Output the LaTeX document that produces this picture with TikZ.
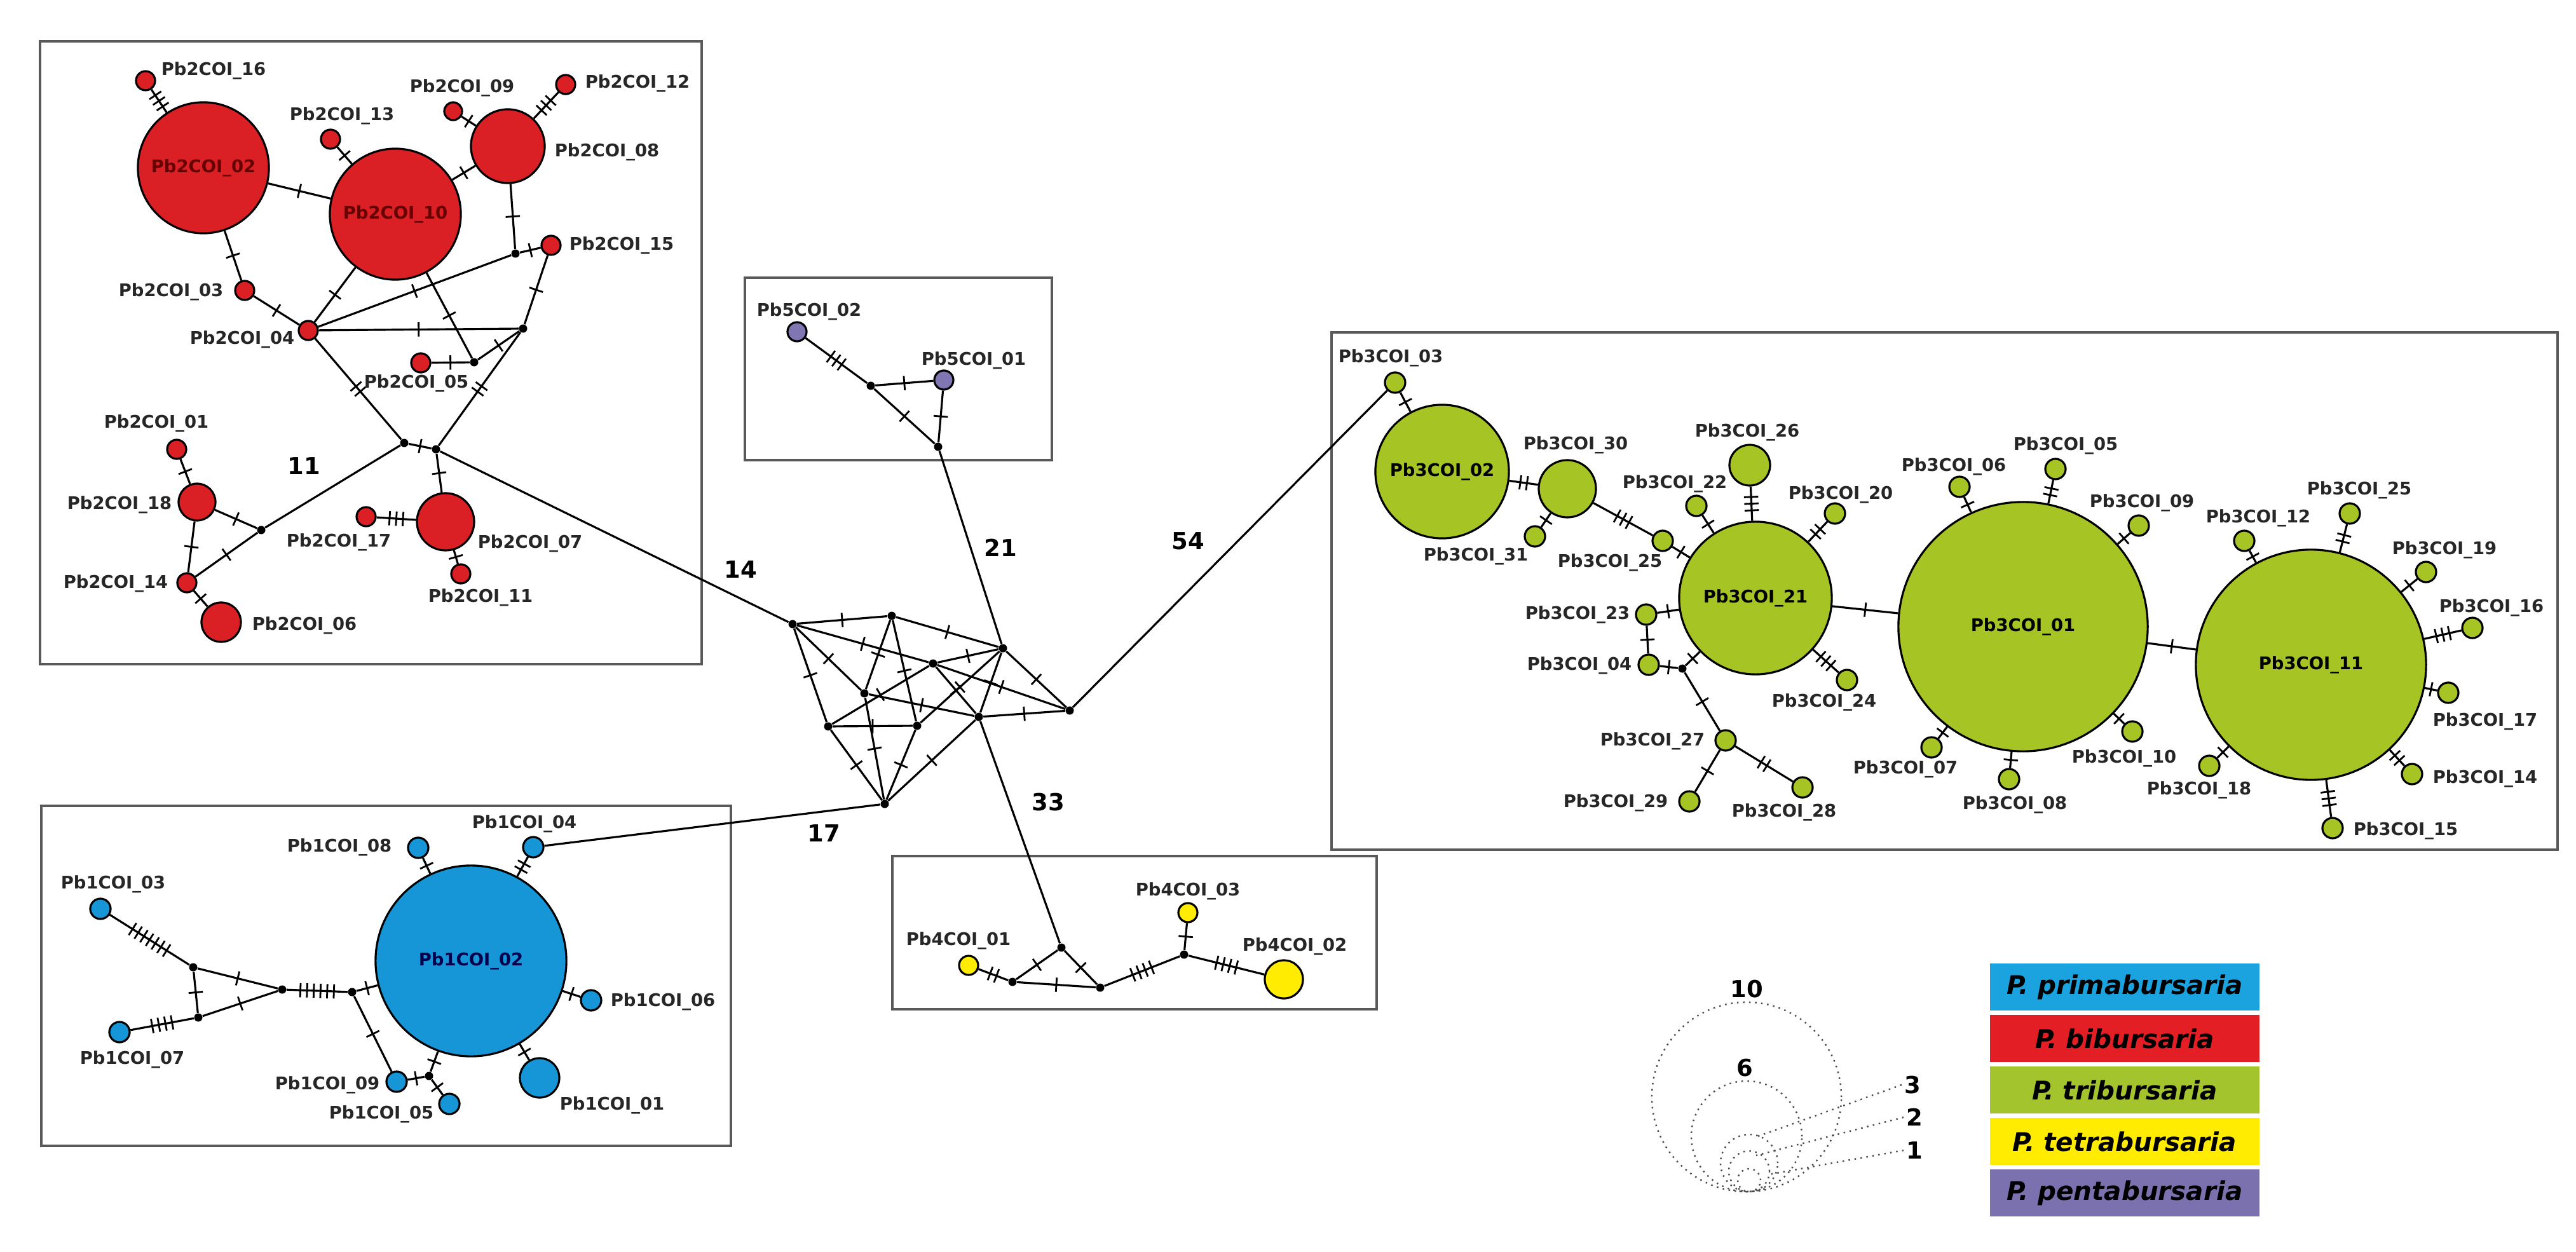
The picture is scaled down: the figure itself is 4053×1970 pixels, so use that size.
\documentclass[tikz,border=0pt]{standalone}
\usepackage{fontspec}
\setmainfont{DejaVu Sans}
\usetikzlibrary{decorations.markings}
\definecolor{hred}{RGB}{218,32,36}
\definecolor{hblue}{RGB}{22,150,214}
\definecolor{hgreen}{RGB}{166,196,36}
\definecolor{hyel}{RGB}{255,236,0}
\definecolor{hpur}{RGB}{128,118,178}
\definecolor{lblue}{RGB}{27,163,224}
\definecolor{lred}{RGB}{227,30,36}
\definecolor{lgreen}{RGB}{163,196,45}
\definecolor{lyel}{RGB}{255,236,0}
\definecolor{lpur}{RGB}{123,113,175}
\tikzset{
  hap/.style={circle,draw=black,line width=0.9pt,inner sep=0pt,minimum size={#1*0.02cm}},
  dot/.style={circle,fill=black,inner sep=0pt,minimum size=0.13cm},
  e/.style={line width=0.9pt},
  tk/.style={postaction={decorate,decoration={markings,mark=at position 0.5 with {\foreach \k in {1,...,#1}{\draw[line width=0.8pt] ({(\k-(#1+1)/2)*3pt},-3.2pt)--++(0,6.4pt);}}}}},
  lab/.style={font=\bfseries\fontsize{7.8}{9}\selectfont,text=black!85,inner sep=1pt},
  inl/.style={font=\bfseries\fontsize{7.8}{9}\selectfont},
  num/.style={font=\bfseries\fontsize{10.5}{12}\selectfont,inner sep=1pt},
  box/.style={draw=black!65,line width=1pt},
  leg/.style={minimum width=4.23cm,minimum height=0.73cm,inner sep=0pt,font=\bfseries\itshape\fontsize{11.5}{13}\selectfont},
  sz/.style={dotted,line width=0.7pt,black!70}
}
\begin{document}
\begin{tikzpicture}[x=0.01cm,y=-0.01cm]
\useasboundingbox (0,0) rectangle (4053,1970);
% boxes
\draw[box] (63,65) rectangle (1104,1045);
\draw[box] (1172,437) rectangle (1655,724);
\draw[box] (2095,523) rectangle (4024,1337);
\draw[box] (65,1268) rectangle (1150,1803);
\draw[box] (1404,1347) rectangle (2166,1588);

% ---------- Pb2 (red)
\node[hap=15,fill=hred] (b16) at (229,127) {};
\node[hap=103,fill=hred,inl,text=red!40!black] (b02) at (320,264) {Pb2COI\_02};
\node[hap=15,fill=hred] (b13) at (520,219) {};
\node[hap=103,fill=hred,inl,text=red!40!black] (b10) at (622,337) {Pb2COI\_10};
\node[hap=14,fill=hred] (b09) at (713,175) {};
\node[hap=15,fill=hred] (b12) at (890,133) {};
\node[hap=58,fill=hred] (b08) at (799,230) {};
\node[hap=15,fill=hred] (b15) at (867,386) {};
\node[dot] (v1) at (811,399) {};
\node[hap=15,fill=hred] (b03) at (385,457) {};
\node[hap=15,fill=hred] (b04) at (485,520) {};
\node[dot] (v2) at (823,517) {};
\node[hap=15,fill=hred] (b05) at (662,571) {};
\node[dot] (v3) at (746,570) {};
\node[dot] (v4) at (636,697) {};
\node[dot] (v5) at (686,707) {};
\node[hap=15,fill=hred] (b01) at (278,707) {};
\node[hap=29,fill=hred] (b18) at (310,790) {};
\node[dot] (v6) at (411,834) {};
\node[hap=15,fill=hred] (b14) at (294,917) {};
\node[hap=31,fill=hred] (b06) at (348,979) {};
\node[hap=15,fill=hred] (b17) at (576,813) {};
\node[hap=45,fill=hred] (b07) at (701,821) {};
\node[hap=15,fill=hred] (b11) at (725,903) {};
\draw[e,tk=3] (b16)--(b02);
\draw[e,tk=1] (b02)--(b10);
\draw[e,tk=1] (b13)--(b10);
\draw[e,tk=1] (b10)--(b08);
\draw[e,tk=1] (b09)--(b08);
\draw[e,tk=3] (b12)--(b08);
\draw[e,tk=1] (b08)--(v1);
\draw[e,tk=1] (v1)--(b15);
\draw[e,tk=1] (b02)--(b03);
\draw[e,tk=1] (b03)--(b04);
\draw[e,tk=1] (b10)--(b04);
\draw[e,tk=1] (b04)--(v1);
\draw[e,tk=1] (b04)--(v2);
\draw[e,tk=1] (b10)--(v3);
\draw[e,tk=1] (b05)--(v3);
\draw[e,tk=1] (v3)--(v2);
\draw[e,tk=1] (v2)--(b15);
\draw[e,tk=2] (b04)--(v4);
\draw[e,tk=2] (v2)--(v5);
\draw[e,tk=1] (v4)--(v5);
\draw[e,tk=1] (v5)--(b07);
\draw[e,tk=3] (b17)--(b07);
\draw[e,tk=1] (b07)--(b11);
\draw[e] (v4)--(v6);
\draw[e,tk=1] (v6)--(b18);
\draw[e,tk=1] (v6)--(b14);
\draw[e,tk=1] (b18)--(b14);
\draw[e,tk=1] (b01)--(b18);
\draw[e,tk=1] (b14)--(b06);
\node[lab] (lb16) at (336,111) {Pb2COI\_16};
\node[lab] (lb13) at (538,182) {Pb2COI\_13};
\node[lab] (lb09) at (727,138) {Pb2COI\_09};
\node[lab] (lb12) at (1003,131) {Pb2COI\_12};
\node[lab] (lb08) at (955,239) {Pb2COI\_08};
\node[lab] (lb15) at (978,386) {Pb2COI\_15};
\node[lab] (lb03) at (269,459) {Pb2COI\_03};
\node[lab] (lb04) at (381,534) {Pb2COI\_04};
\node[lab] (lb05) at (655,603) {Pb2COI\_05};
\node[lab] (lb01) at (246,666) {Pb2COI\_01};
\node[lab] (lb18) at (188,794) {Pb2COI\_18};
\node[lab] (lb17) at (533,853) {Pb2COI\_17};
\node[lab] (lb07) at (834,855) {Pb2COI\_07};
\node[lab] (lb11) at (756,940) {Pb2COI\_11};
\node[lab] (lb14) at (182,918) {Pb2COI\_14};
\node[lab] (lb06) at (479,984) {Pb2COI\_06};
\node[num] (n11) at (478,733) {11};

% ---------- Pb5 (purple)
\node[hap=15,fill=hpur] (u02) at (1254,522) {};
\node[dot] (w1) at (1370,607) {};
\node[hap=15,fill=hpur] (u01) at (1485,598) {};
\node[dot] (w2) at (1476,703) {};
\draw[e,tk=3] (u02)--(w1);
\draw[e,tk=1] (w1)--(u01);
\draw[e,tk=1] (w1)--(w2);
\draw[e,tk=1] (u01)--(w2);
\node[lab] (lu02) at (1273,490) {Pb5COI\_02};
\node[lab] (lu01) at (1532,567) {Pb5COI\_01};

% ---------- central network
\node[dot] (c1) at (1247,982) {};
\node[dot] (c2) at (1403,969) {};
\node[dot] (c3) at (1578,1020) {};
\node[dot] (c4) at (1468,1044) {};
\node[dot] (c5) at (1360,1091) {};
\node[dot] (c6) at (1683,1118) {};
\node[dot] (c7) at (1303,1143) {};
\node[dot] (c8) at (1443,1142) {};
\node[dot] (c9) at (1540,1128) {};
\node[dot] (c10) at (1392,1265) {};
\foreach \a/\b in {c1/c2,c2/c3,c1/c4,c4/c6,c1/c5,c1/c7,c2/c5,c5/c10,c2/c8,c4/c3,c7/c4,c4/c9,c5/c9,c7/c8,c8/c3,c9/c3,c3/c6,c9/c6,c7/c10,c8/c10,c9/c10}
  \draw[e,tk=1] (\a)--(\b);

% ---------- Pb4 (yellow)
\node[hap=15,fill=hyel] (y01) at (1524,1519) {};
\node[dot] (x2) at (1593,1545) {};
\node[dot] (x1) at (1670,1491) {};
\node[dot] (x3) at (1731,1554) {};
\node[dot] (x4) at (1863,1502) {};
\node[hap=15,fill=hyel] (y03) at (1869,1436) {};
\node[hap=30,fill=hyel] (y02) at (2020,1541) {};
\draw[e,tk=2] (y01)--(x2);
\draw[e,tk=1] (x2)--(x1);
\draw[e,tk=1] (x1)--(x3);
\draw[e,tk=1] (x2)--(x3);
\draw[e,tk=4] (x3)--(x4);
\draw[e,tk=1] (x4)--(y03);
\draw[e,tk=4] (x4)--(y02);
\node[lab] (ly01) at (1508,1480) {Pb4COI\_01};
\node[lab] (ly03) at (1869,1402) {Pb4COI\_03};
\node[lab] (ly02) at (2037,1489) {Pb4COI\_02};

% ---------- Pb3 (green)
\node[hap=16,fill=hgreen] (g03) at (2195,602) {};
\node[hap=105,fill=hgreen,inl] (g02) at (2269,742) {Pb3COI\_02};
\node[hap=45,fill=hgreen] (g30) at (2466,769) {};
\node[hap=16,fill=hgreen] (g31) at (2415,844) {};
\node[hap=16,fill=hgreen] (g25a) at (2616,851) {};
\node[hap=32,fill=hgreen] (g26) at (2753,732) {};
\node[hap=16,fill=hgreen] (g22) at (2669,796) {};
\node[hap=16,fill=hgreen] (g20) at (2887,808) {};
\node[hap=120,fill=hgreen,inl] (g21) at (2762,941) {Pb3COI\_21};
\node[hap=16,fill=hgreen] (g23) at (2590,967) {};
\node[hap=16,fill=hgreen] (g04) at (2594,1046) {};
\node[dot] (yy) at (2647,1052) {};
\node[hap=16,fill=hgreen] (g24) at (2906,1070) {};
\node[hap=16,fill=hgreen] (g27) at (2715,1165) {};
\node[hap=16,fill=hgreen] (g29) at (2658,1261) {};
\node[hap=16,fill=hgreen] (g28) at (2836,1239) {};
\node[hap=196,fill=hgreen,inl] (g01) at (3183,986) {Pb3COI\_01};
\node[hap=16,fill=hgreen] (g06) at (3083,766) {};
\node[hap=16,fill=hgreen] (g05) at (3234,738) {};
\node[hap=16,fill=hgreen] (g09) at (3365,827) {};
\node[hap=16,fill=hgreen] (g07) at (3039,1176) {};
\node[hap=16,fill=hgreen] (g08) at (3161,1226) {};
\node[hap=16,fill=hgreen] (g10) at (3355,1151) {};
\node[hap=181,fill=hgreen,inl] (g11) at (3636,1046) {Pb3COI\_11};
\node[hap=16,fill=hgreen] (g12) at (3531,851) {};
\node[hap=16,fill=hgreen] (g25b) at (3697,808) {};
\node[hap=16,fill=hgreen] (g19) at (3817,900) {};
\node[hap=16,fill=hgreen] (g16) at (3890,988) {};
\node[hap=16,fill=hgreen] (g17) at (3852,1090) {};
\node[hap=16,fill=hgreen] (g14) at (3795,1218) {};
\node[hap=16,fill=hgreen] (g15) at (3670,1303) {};
\node[hap=16,fill=hgreen] (g18) at (3476,1205) {};
\foreach \a/\b/\n in {g03/g02/1,g02/g30/2,g30/g31/1,g30/g25a/3,g25a/g21/1,g26/g21/3,g22/g21/1,g20/g21/2,g23/g21/1,g23/g04/1,g04/yy/1,yy/g21/1,yy/g27/1,g27/g29/1,g27/g28/2,g24/g21/3,g21/g01/1,g06/g01/1,g05/g01/2,g09/g01/1,g07/g01/1,g08/g01/1,g10/g01/1,g01/g11/1,g12/g11/1,g25b/g11/2,g19/g11/1,g16/g11/3,g17/g11/1,g14/g11/2,g15/g11/3,g18/g11/1}
  \draw[e,tk=\n] (\a)--(\b);
\node[lab] (lg03) at (2188,563) {Pb3COI\_03};
\node[lab] (lg30) at (2479,700) {Pb3COI\_30};
\node[lab] (lg26) at (2749,680) {Pb3COI\_26};
\node[lab] (lg22) at (2635,761) {Pb3COI\_22};
\node[lab] (lg20) at (2896,778) {Pb3COI\_20};
\node[lab] (lg06) at (3074,734) {Pb3COI\_06};
\node[lab] (lg05) at (3250,701) {Pb3COI\_05};
\node[lab] (lg09) at (3370,791) {Pb3COI\_09};
\node[lab] (lg12) at (3553,815) {Pb3COI\_12};
\node[lab] (lg25b) at (3712,771) {Pb3COI\_25};
\node[lab] (lg19) at (3846,865) {Pb3COI\_19};
\node[lab] (lg16) at (3920,956) {Pb3COI\_16};
\node[lab] (lg17) at (3910,1135) {Pb3COI\_17};
\node[lab] (lg14) at (3910,1225) {Pb3COI\_14};
\node[lab] (lg15) at (3785,1307) {Pb3COI\_15};
\node[lab] (lg18) at (3460,1243) {Pb3COI\_18};
\node[lab] (lg08) at (3170,1266) {Pb3COI\_08};
\node[lab] (lg10) at (3342,1193) {Pb3COI\_10};
\node[lab] (lg07) at (2998,1210) {Pb3COI\_07};
\node[lab] (lg29) at (2542,1263) {Pb3COI\_29};
\node[lab] (lg28) at (2807,1278) {Pb3COI\_28};
\node[lab] (lg27) at (2600,1166) {Pb3COI\_27};
\node[lab] (lg24) at (2870,1105) {Pb3COI\_24};
\node[lab] (lg04) at (2485,1047) {Pb3COI\_04};
\node[lab] (lg23) at (2482,967) {Pb3COI\_23};
\node[lab] (lg25a) at (2533,885) {Pb3COI\_25};
\node[lab] (lg31) at (2322,875) {Pb3COI\_31};

% ---------- Pb1 (blue)
\node[hap=150,fill=hblue,inl,text=blue!30!black] (p02) at (741,1512) {Pb1COI\_02};
\node[hap=16,fill=hblue] (p08) at (658,1334) {};
\node[hap=16,fill=hblue] (p04) at (839,1333) {};
\node[hap=16,fill=hblue] (p03) at (158,1430) {};
\node[dot] (z1) at (304,1522) {};
\node[dot] (z2) at (444,1557) {};
\node[dot] (z3) at (312,1601) {};
\node[hap=16,fill=hblue] (p07) at (188,1624) {};
\node[dot] (z4) at (554,1561) {};
\node[hap=16,fill=hblue] (p06) at (930,1574) {};
\node[hap=31,fill=hblue] (p01) at (849,1696) {};
\node[hap=16,fill=hblue] (p09) at (624,1702) {};
\node[dot] (z5) at (675,1693) {};
\node[hap=16,fill=hblue] (p05) at (707,1737) {};
\foreach \a/\b/\n in {p03/z1/7,z1/z2/1,z1/z3/1,z2/z3/1,p07/z3/4,z2/z4/6,z4/p02/1,z4/p09/1,p09/z5/1,z5/p02/1,z5/p05/1,p01/p02/1,p06/p02/1,p08/p02/1,p04/p02/2}
  \draw[e,tk=\n] (\a)--(\b);
\node[lab] (lp08) at (534,1333) {Pb1COI\_08};
\node[lab] (lp04) at (825,1296) {Pb1COI\_04};
\node[lab] (lp03) at (178,1391) {Pb1COI\_03};
\node[lab] (lp07) at (208,1667) {Pb1COI\_07};
\node[lab] (lp06) at (1043,1576) {Pb1COI\_06};
\node[lab] (lp01) at (963,1739) {Pb1COI\_01};
\node[lab] (lp09) at (515,1707) {Pb1COI\_09};
\node[lab] (lp05) at (600,1753) {Pb1COI\_05};

% ---------- long connectors
\draw[e] (v5)--(c1);
\draw[e] (w2)--(c3);
\draw[e] (c6)--(g03);
\draw[e] (c9)--(x1);
\draw[e] (c10)--(p04);
\node[num] (n14) at (1165,896) {14};
\node[num] (n21) at (1574,862) {21};
\node[num] (n54) at (1869,851) {54};
\node[num] (n17) at (1296,1311) {17};
\node[num] (n33) at (1649,1262) {33};

% ---------- size legend
\draw[sz] (2748,1726) circle[radius=1.49cm];
\draw[sz] (2748,1788) circle[radius=0.87cm];
\draw[sz] (2752,1830) circle[radius=0.45cm];
\draw[sz] (2752,1843) circle[radius=0.32cm];
\draw[sz] (2752,1857) circle[radius=0.18cm];
\node[num,fill=white] (s10) at (2748,1556) {10};
\node[num,fill=white] (s6) at (2745,1680) {6};
\node[num] (s3) at (3009,1707) {3};
\node[num] (s2) at (3012,1758) {2};
\node[num] (s1) at (3012,1810) {1};
\coordinate (e3) at (2760,1790);
\coordinate (e2) at (2763,1818);
\coordinate (e1) at (2783,1848);
\draw[sz] (s3.west)--(e3);
\draw[sz] (s2.west)--(e2);
\draw[sz] (s1.west)--(e1);

% ---------- species legend
\node[leg,fill=lblue] (L1) at (3343,1553) {P. primabursaria};
\node[leg,fill=lred] (L2) at (3343,1634) {P. bibursaria};
\node[leg,fill=lgreen] (L3) at (3343,1715) {P. tribursaria};
\node[leg,fill=lyel] (L4) at (3343,1796) {P. tetrabursaria};
\node[leg,fill=lpur] (L5) at (3343,1877) {P. pentabursaria};
\end{tikzpicture}
\end{document}
